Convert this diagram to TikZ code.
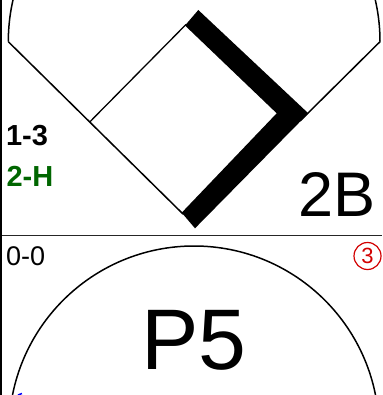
\documentclass[tikz,border=0pt]{standalone}
\usepackage{fontspec}
\setmainfont{Liberation Sans}
\definecolor{scoregreen}{RGB}{0,102,0}
\definecolor{scorered}{RGB}{210,0,0}
\begin{document}
\begin{tikzpicture}[x=1pt,y=-1pt,
  thinline/.style={line width=1.3pt, black},
  fieldline/.style={line width=1.5pt, black},
  lbl/.style={inner sep=0pt, outer sep=0pt}]
\useasboundingbox (0,0) rectangle (382,395);
\clip (0,0) rectangle (382,395);
% key points
\coordinate (LF) at (8.3,41.7);
\coordinate (RF) at (380,41.7);
\coordinate (T) at (90,121.7);
\coordinate (Sin) at (186,24.5);
\coordinate (Hin) at (183,214);
\coordinate (Fin) at (300,121);
% outfield arc
\draw[fieldline] (LF) arc[start angle=180, end angle=360, radius=185.85];
% foul lines and third-base side of diamond
\draw[fieldline] (LF) -- (Hin);
\draw[fieldline] (RF) -- (Fin);
\draw[thinline] (T) -- (Sin);
% thick band second -> first -> home
\fill (185,25.5) -- (198.3,10) -- (308.3,113.3) -- (195,228.3) -- (181.7,212.7) -- (276.7,113.3) -- cycle;
% frame lines
\draw[line width=1.8pt, black!85] (0,235.5) -- (382,235.5);
\draw[line width=2pt] (1,0) -- (1,395);
% lower circle
\draw[fieldline] (194,431) circle[radius=185];
% texts
\node[lbl, anchor=base west, font=\bfseries\fontsize{29}{29}\selectfont] (count) at (6,145.7) {1-3};
\node[lbl, anchor=base west, text=scoregreen, font=\bfseries\fontsize{29}{29}\selectfont] (adv) at (6.5,186) {2-H};
\node[lbl, anchor=base east, font=\fontsize{63}{63}\selectfont] (hit) at (376,216.7) {2B};
\node[lbl, anchor=base west, font=\fontsize{27}{27}\selectfont] (balls) at (6,265) {0-0};
\node[circle, draw=scorered, line width=1.2pt, minimum size=27pt, inner sep=0pt, text=scorered, font=\fontsize{22}{22}\selectfont] (outs) at (367.5,256) {3};
\node[lbl, anchor=base, font=\fontsize{86}{86}\selectfont] (pitch) at (194,369) {P5};
\draw[blue, line width=1.5pt] (18,395) -- (22,393.5);
\end{tikzpicture}
\end{document}
